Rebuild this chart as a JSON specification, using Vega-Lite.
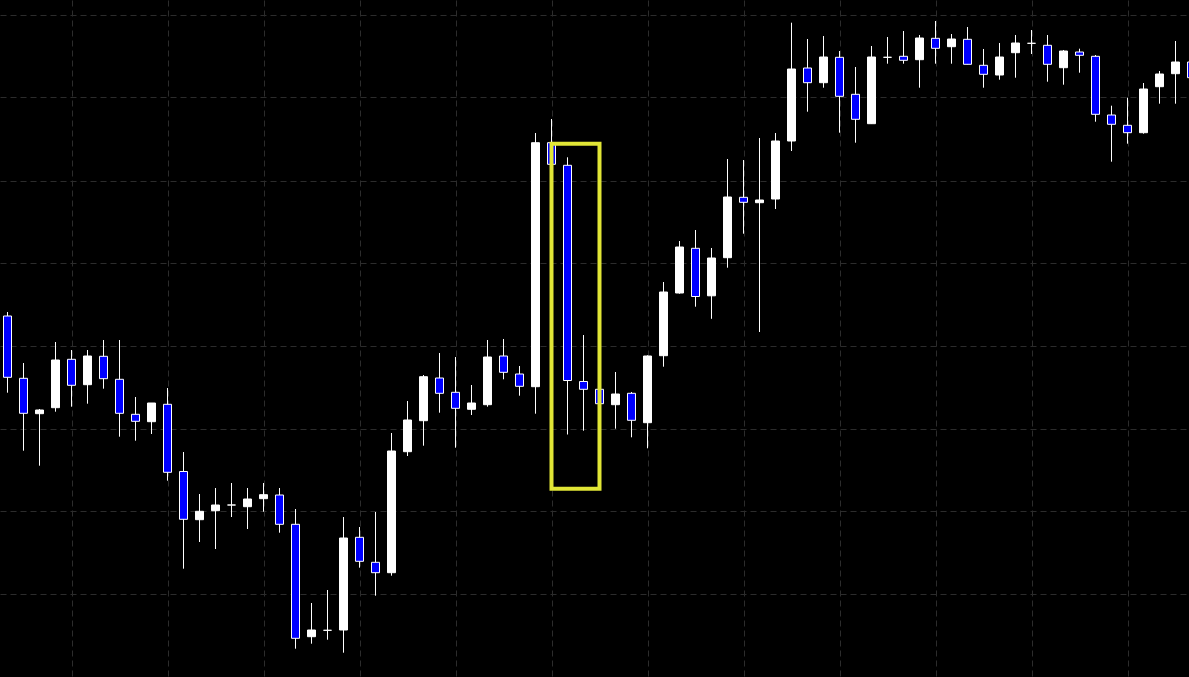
{
  "$schema": "https://vega.github.io/schema/vega-lite/v6.json",
  "width": 1189,
  "height": 677,
  "autosize": {"type": "fit", "contains": "padding"},
  "padding": 0,
  "background": "#000000",
  "config": {
    "view": {"stroke": null},
    "axis": {"labels": false, "ticks": false, "domain": false, "title": null, "grid": true, "gridColor": "#2c2c2c", "gridDash": [6, 4], "gridWidth": 1}
  },
  "datasets": {
    "candles": [
      {"i": 0, "open": 361, "high": 365, "low": 284.3, "close": 299.7},
      {"i": 1, "open": 298.7, "high": 314, "low": 226.3, "close": 263.7},
      {"i": 2, "open": 263.3, "high": 268, "low": 211.3, "close": 267},
      {"i": 3, "open": 269.3, "high": 335, "low": 265.3, "close": 317},
      {"i": 4, "open": 317.7, "high": 327, "low": 270.3, "close": 291.7},
      {"i": 5, "open": 292.3, "high": 327, "low": 273.3, "close": 321},
      {"i": 6, "open": 320.7, "high": 337, "low": 288.3, "close": 298.3},
      {"i": 7, "open": 297.7, "high": 337, "low": 240.3, "close": 263.7},
      {"i": 8, "open": 262.7, "high": 280, "low": 236.3, "close": 255.7},
      {"i": 9, "open": 255.3, "high": 274, "low": 243, "close": 274},
      {"i": 10, "open": 272.7, "high": 289, "low": 196.3, "close": 204.7},
      {"i": 11, "open": 205.5, "high": 225, "low": 108.3, "close": 157.7},
      {"i": 12, "open": 157.3, "high": 183, "low": 135, "close": 165.7},
      {"i": 13, "open": 166.3, "high": 189, "low": 128, "close": 172},
      {"i": 14, "open": 172, "high": 194, "low": 160, "close": 172},
      {"i": 15, "open": 170.3, "high": 189, "low": 148, "close": 178},
      {"i": 16, "open": 178.3, "high": 194, "low": 165.3, "close": 182.3},
      {"i": 17, "open": 182, "high": 189, "low": 144.3, "close": 152.7},
      {"i": 18, "open": 152.7, "high": 168, "low": 28.3, "close": 38.7},
      {"i": 19, "open": 40.3, "high": 74, "low": 33.3, "close": 47},
      {"i": 20, "open": 46.7, "high": 87, "low": 37.3, "close": 46.7},
      {"i": 21, "open": 47, "high": 160, "low": 24.3, "close": 139},
      {"i": 22, "open": 139.7, "high": 150, "low": 109.3, "close": 115.7},
      {"i": 23, "open": 114.7, "high": 165, "low": 81.3, "close": 104.3},
      {"i": 24, "open": 104.3, "high": 244, "low": 101.3, "close": 226},
      {"i": 25, "open": 225.3, "high": 276, "low": 221, "close": 257},
      {"i": 26, "open": 256.3, "high": 302, "low": 231.3, "close": 300.3},
      {"i": 27, "open": 299, "high": 324, "low": 264.3, "close": 283.7},
      {"i": 28, "open": 284.7, "high": 320, "low": 229.3, "close": 268.7},
      {"i": 29, "open": 267.7, "high": 292, "low": 262, "close": 274},
      {"i": 30, "open": 272.3, "high": 337, "low": 270.3, "close": 320},
      {"i": 31, "open": 321, "high": 338, "low": 297.7, "close": 304.7},
      {"i": 32, "open": 303, "high": 311, "low": 281.3, "close": 290.7},
      {"i": 33, "open": 290.3, "high": 544, "low": 263.3, "close": 534.3},
      {"i": 34, "open": 534.3, "high": 558, "low": 512.7, "close": 512.7},
      {"i": 35, "open": 511.7, "high": 519.7, "low": 242.5, "close": 296.5},
      {"i": 36, "open": 295.5, "high": 342, "low": 246.3, "close": 287.7},
      {"i": 37, "open": 287.7, "high": 287.7, "low": 273.3, "close": 273.3},
      {"i": 38, "open": 272.3, "high": 305, "low": 248.3, "close": 283},
      {"i": 39, "open": 283.7, "high": 285, "low": 239.7, "close": 256.7},
      {"i": 40, "open": 254.3, "high": 321.7, "low": 228.7, "close": 321},
      {"i": 41, "open": 321.3, "high": 395, "low": 310.3, "close": 385},
      {"i": 42, "open": 384, "high": 436, "low": 383.3, "close": 430},
      {"i": 43, "open": 428.7, "high": 447, "low": 370.3, "close": 380.5},
      {"i": 44, "open": 381.2, "high": 429, "low": 358.2, "close": 419},
      {"i": 45, "open": 419.3, "high": 518, "low": 409.3, "close": 480},
      {"i": 46, "open": 479.7, "high": 517, "low": 443.3, "close": 474.7},
      {"i": 47, "open": 474.3, "high": 539, "low": 345, "close": 477},
      {"i": 48, "open": 478, "high": 544, "low": 468, "close": 536},
      {"i": 49, "open": 536, "high": 654.3, "low": 526, "close": 608},
      {"i": 50, "open": 609, "high": 638, "low": 565.3, "close": 594.3},
      {"i": 51, "open": 594.3, "high": 641, "low": 589.3, "close": 620},
      {"i": 52, "open": 619.7, "high": 626, "low": 544.3, "close": 580.7},
      {"i": 53, "open": 582.7, "high": 610, "low": 534.3, "close": 557.7},
      {"i": 54, "open": 553.3, "high": 631, "low": 553.3, "close": 620},
      {"i": 55, "open": 619.7, "high": 640, "low": 613.3, "close": 619.7},
      {"i": 56, "open": 620.7, "high": 646, "low": 613.3, "close": 616.7},
      {"i": 57, "open": 617.3, "high": 642, "low": 589.3, "close": 639},
      {"i": 58, "open": 638.7, "high": 656, "low": 613.3, "close": 628.7},
      {"i": 59, "open": 630.3, "high": 643, "low": 613.3, "close": 638},
      {"i": 60, "open": 637.7, "high": 650, "low": 612.7, "close": 612.7},
      {"i": 61, "open": 611.7, "high": 628, "low": 589.3, "close": 602.7},
      {"i": 62, "open": 602, "high": 634, "low": 597.3, "close": 620},
      {"i": 63, "open": 624.3, "high": 642, "low": 599.3, "close": 634},
      {"i": 64, "open": 633.7, "high": 647, "low": 623, "close": 633.7},
      {"i": 65, "open": 631.7, "high": 642, "low": 595.3, "close": 612.7},
      {"i": 66, "open": 609.3, "high": 627, "low": 592.3, "close": 626},
      {"i": 67, "open": 625, "high": 628.3, "low": 604.3, "close": 621.7},
      {"i": 68, "open": 620.7, "high": 622, "low": 555.3, "close": 562.7},
      {"i": 69, "open": 562, "high": 571.3, "low": 515.3, "close": 552.7},
      {"i": 70, "open": 551.7, "high": 579.3, "low": 533.3, "close": 544.3},
      {"i": 71, "open": 544.3, "high": 594, "low": 543.3, "close": 588},
      {"i": 72, "open": 590.3, "high": 606, "low": 573.3, "close": 603},
      {"i": 73, "open": 603.3, "high": 636, "low": 573.3, "close": 615},
      {"i": 74, "open": 615, "high": 627, "low": 587, "close": 599.3}
    ],
    "highlight": [
      {"start": 34, "end": 37, "top": 533.3, "bottom": 188.3}
    ]
  },
  "layer": [
    {
      "data": {"name": "candles"},
      "mark": {"type": "rule", "color": "#ffffff", "strokeWidth": 1, "clip": true},
      "encoding": {
        "x": {"field": "i", "type": "quantitative", "scale": {"domain": [-0.46875, 73.84375], "nice": false, "zero": false, "padding": 0}, "axis": {"values": [4, 10, 16, 22, 28, 34, 40, 46, 52, 58, 64, 70]}},
        "y": {"field": "low", "type": "quantitative", "scale": {"domain": [0, 677], "nice": false, "zero": false, "padding": 0}, "axis": {"values": [83.5, 166.5, 248.5, 331.5, 414.5, 496.5, 579.5, 662.5]}},
        "y2": {"field": "high"}
      }
    },
    {
      "data": {"name": "candles"},
      "mark": {"type": "bar", "size": 8, "stroke": "#ffffff", "strokeWidth": 1, "clip": true},
      "encoding": {
        "x": {"field": "i", "type": "quantitative"},
        "y": {"field": "open", "type": "quantitative"},
        "y2": {"field": "close"},
        "fill": {"condition": {"test": "datum.close < datum.open", "value": "#0000ff"}, "value": "#ffffff"}
      }
    },
    {
      "data": {"name": "highlight"},
      "mark": {"type": "rect", "fill": null, "fillOpacity": 0, "stroke": "#e1e636", "strokeWidth": 4},
      "encoding": {
        "x": {"field": "start", "type": "quantitative"},
        "x2": {"field": "end"},
        "y": {"field": "top", "type": "quantitative"},
        "y2": {"field": "bottom"}
      }
    }
  ]
}
